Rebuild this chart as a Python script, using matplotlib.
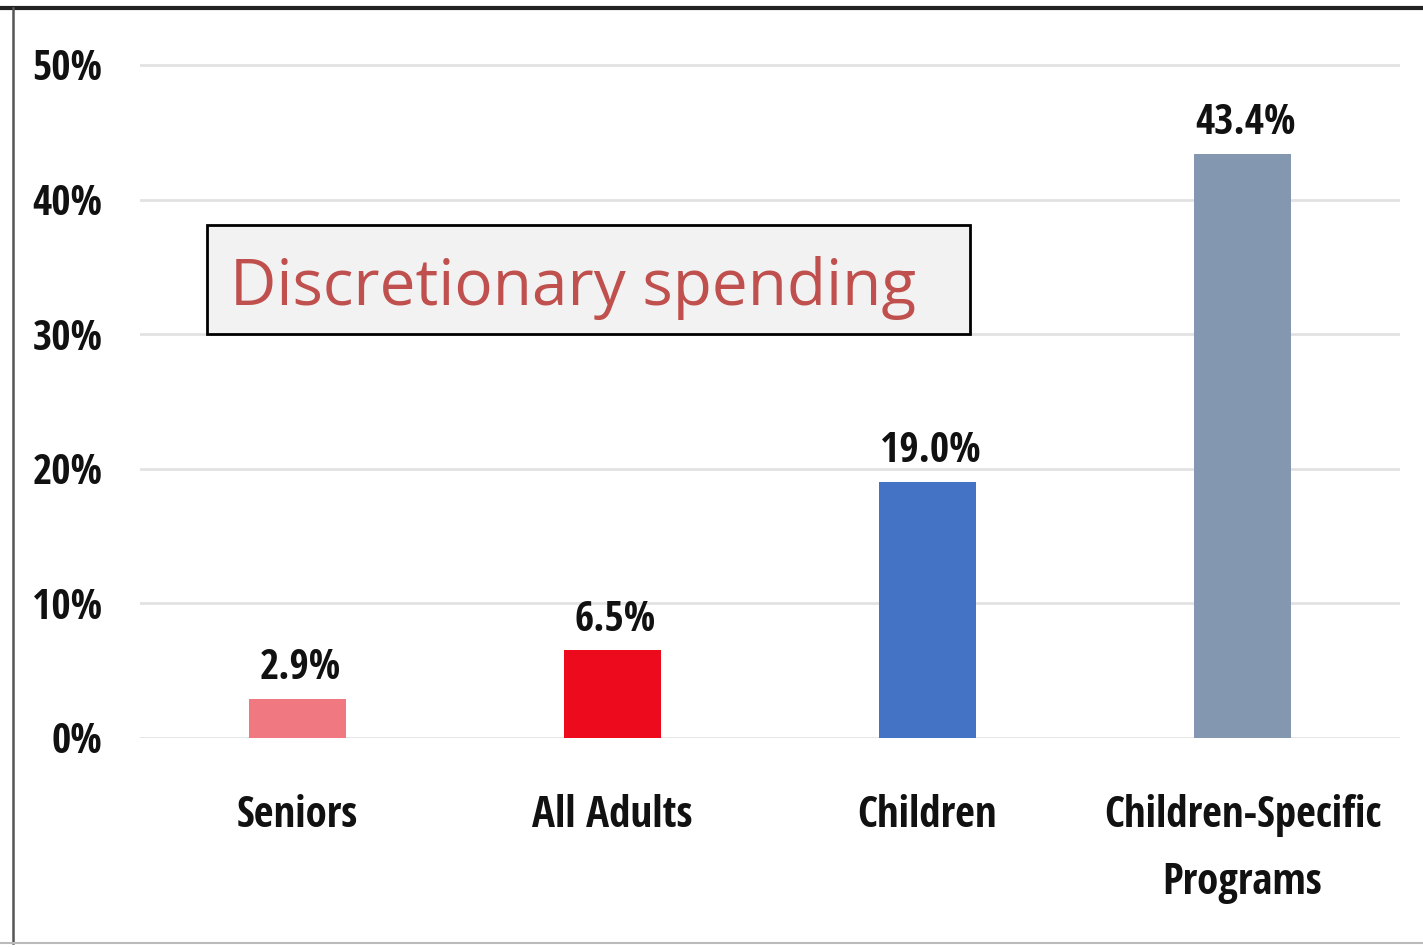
import matplotlib
matplotlib.use('Agg')
from matplotlib import pyplot as plt
from matplotlib.font_manager import fontManager
from matplotlib.lines import Line2D
from matplotlib.patches import Rectangle

# chart data
categories = ['Seniors', 'All Adults', 'Children', 'Children-Specific\nPrograms']
shares = [2.9, 6.5, 19.0, 43.4]
bar_colors = ['#F07880', '#EC0A1C', '#4472C4', '#8497B0']
y_ticks = [0, 10, 20, 30, 40, 50]
y_tick_labels = ['0%', '10%', '20%', '30%', '40%', '50%']
note_text = 'Discretionary spending'

installed = {f.name for f in fontManager.ttflist}
narrow = 'Open Sans Condensed' if 'Open Sans Condensed' in installed else 'DejaVu Sans'

fig = plt.figure(figsize=(14.23, 9.47), dpi=100)
ax = fig.add_axes([0.0984, 0.2207, 0.8854, 0.7392])

x = list(range(len(categories)))
ax.bar(x, shares, width=0.31, color=bar_colors, zorder=3)

for xi, v in zip(x, shares):
    ax.annotate(f'{v:.1f}%', (xi, v), xytext=(2, 7), textcoords='offset points',
                ha='center', va='bottom', fontsize=30, fontweight='bold',
                family=narrow, color='#111111')

ax.set_xlim(-0.5, 3.5)
ax.set_ylim(0, 52)
ax.set_yticks(y_ticks)
ax.set_yticklabels(y_tick_labels, family=narrow, fontweight='bold', fontsize=30, color='#111111')
ax.set_xticks(x)
ax.set_xticklabels(categories, family=narrow, fontweight='bold', fontsize=31,
                   color='#111111', linespacing=1.75, va='top')
ax.tick_params(axis='y', length=0, pad=27)
ax.tick_params(axis='x', length=0, pad=40)

for t in y_ticks:
    ax.axhline(t, color='#E2E2E2', linewidth=2, zorder=1)
for s in ax.spines.values():
    s.set_visible(False)

# label box over the left of the plot
fig.add_artist(Rectangle((0.1455, 0.6473), 0.5362, 0.1151, transform=fig.transFigure,
                         facecolor='#F2F2F2', edgecolor='black', linewidth=2, zorder=5))
fig.text(0.1616, 0.6779, note_text, fontsize=46, family='Open Sans', color='#C0504D',
         va='baseline', ha='left', zorder=6)

# outer frame edges
fig.add_artist(Line2D([0, 1], [0.9915, 0.9915], transform=fig.transFigure, color='#222222', linewidth=3))
fig.add_artist(Line2D([0.0088, 0.0088], [0.004, 0.9915], transform=fig.transFigure, color='#555555', linewidth=1.8))
fig.add_artist(Line2D([0, 1], [0.004, 0.004], transform=fig.transFigure, color='#BBBBBB', linewidth=1.5))

fig.savefig('out.png', dpi=100)
